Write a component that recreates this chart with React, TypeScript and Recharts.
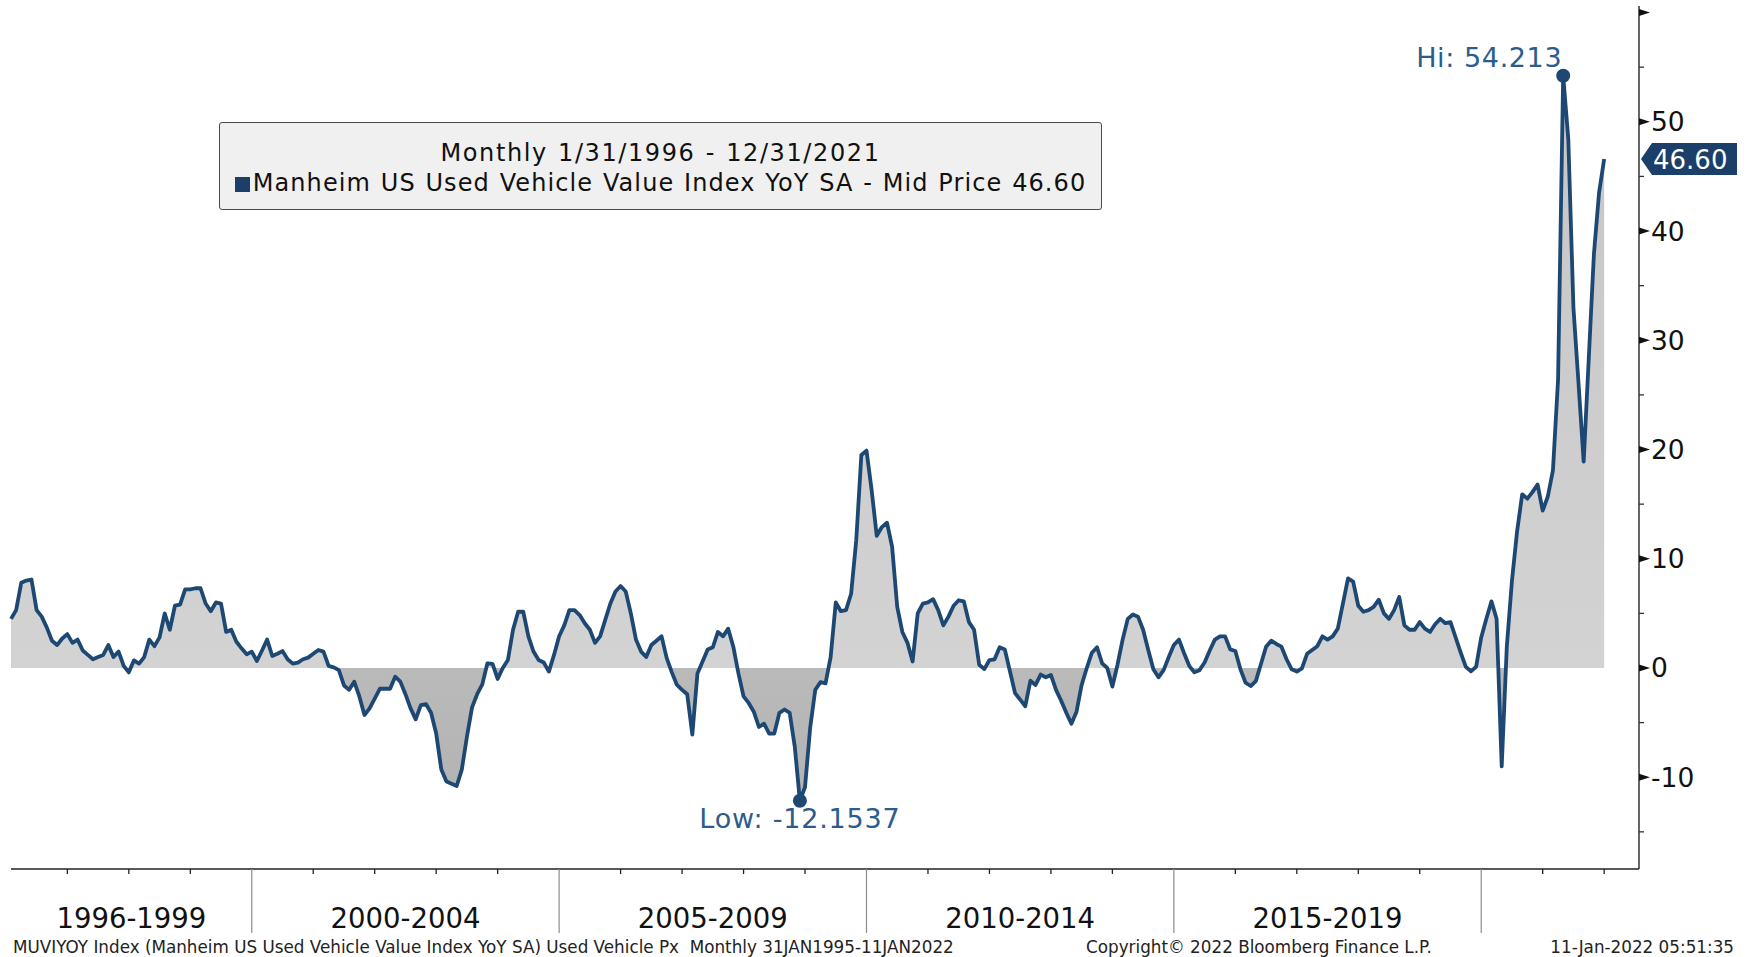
import React from 'react';
import {
  ComposedChart,
  Area,
  XAxis,
  YAxis,
  ReferenceDot,
  Legend,
} from 'recharts';

// Manheim US Used Vehicle Value Index YoY SA, monthly, one array per axis period
const yoy1996to1999 = [
  4.5, 5.3, 7.8, 8.0, 8.1, 5.3, 4.7, 3.7, 2.5, 2.1, 2.7, 3.1,
  2.3, 2.6, 1.6, 1.2, 0.8, 1.0, 1.2, 2.1, 1.0, 1.5, 0.2, -0.4,
  0.7, 0.4, 1.0, 2.6, 2.0, 2.8, 5.0, 3.5, 5.7, 5.8, 7.2, 7.2,
  7.3, 7.3, 5.9, 5.2, 6.0, 5.9, 3.3, 3.5, 2.4, 1.8, 1.25, 1.5,
];
const yoy2000to2004 = [
  0.64, 1.6, 2.6, 1.1, 1.3, 1.55, 0.8, 0.4, 0.5, 0.8, 0.95, 1.3,
  1.65, 1.5, 0.2, 0.06, -0.2, -1.6, -2.0, -1.25, -2.6, -4.3, -3.7, -2.8,
  -1.9, -1.9, -1.9, -0.8, -1.25, -2.4, -3.7, -4.7, -3.4, -3.3, -4.1, -6.0,
  -9.3, -10.4, -10.6, -10.8, -9.3, -6.3, -3.6, -2.4, -1.5, 0.43, 0.37, -1.0,
  0.0, 0.73, 3.5, 5.15, 5.15, 2.9, 1.5, 0.73, 0.5, -0.33, 1.2, 2.9,
];
const yoy2005to2009 = [
  3.9, 5.3, 5.3, 4.85, 4.1, 3.5, 2.3, 2.9, 4.4, 5.9, 7.0, 7.5,
  7.0, 5.0, 2.6, 1.5, 1.0, 2.1, 2.5, 2.9, 0.9, -0.4, -1.55, -2.0,
  -2.4, -6.1, -0.5, 0.6, 1.7, 1.9, 3.3, 2.9, 3.6, 1.95, -0.5, -2.6,
  -3.2, -4.0, -5.4, -5.1, -6.0, -6.0, -4.1, -3.8, -4.1, -7.2, -12.1537, -10.9,
  -5.5, -2.0, -1.3, -1.4, 1.0, 6.0, 5.2, 5.3, 6.8, 11.7, 19.5, 19.9,
];
const yoy2010to2014 = [
  16.3, 12.1, 12.9, 13.3, 11.1, 5.6, 3.3, 2.3, 0.6, 5.0, 5.9, 6.0,
  6.3, 5.3, 3.9, 4.7, 5.7, 6.2, 6.1, 4.2, 3.5, 0.3, -0.1, 0.73,
  0.8, 1.9, 1.7, -0.3, -2.3, -2.9, -3.5, -1.16, -1.55, -0.6, -0.85, -0.64,
  -2.0, -3.0, -4.1, -5.1, -4.0, -1.55, 0.0, 1.4, 1.9, 0.43, 0.0, -1.7,
  0.3, 2.6, 4.5, 4.9, 4.7, 3.5, 1.65, -0.12, -0.85, -0.2, 1.0, 2.1,
];
const yoy2015to2019 = [
  2.6, 1.35, 0.2, -0.4, -0.2, 0.5, 1.6, 2.6, 2.9, 2.9, 1.7, 1.55,
  -0.12, -1.35, -1.65, -1.2, 0.37, 1.95, 2.5, 2.2, 1.95, 0.8, -0.12, -0.33,
  -0.03, 1.3, 1.65, 2.0, 2.9, 2.6, 2.9, 3.6, 5.9, 8.2, 7.9, 5.7,
  5.15, 5.3, 5.6, 6.25, 5.0, 4.5, 5.3, 6.5, 3.9, 3.5, 3.5, 4.2,
  3.6, 3.3, 4.0, 4.5, 4.1, 4.2, 2.8, 1.4, 0.1, -0.3, 0.1, 2.8,
];
const yoy2020to2021 = [
  4.5, 6.1, 4.5, -9.0, 2.0, 8.0, 12.5, 15.9, 15.5, 16.1, 16.8, 14.4,
  15.7, 18.1, 26.4, 54.213, 48.4, 33.0, 26.0, 18.9, 28.4, 37.9, 43.5, 46.6,
];

// x axis: period labels and the month index (Dec) closing each labelled period
const periodLabels = ['1996-1999', '2000-2004', '2005-2009', '2010-2014', '2015-2019'];
const periodEnds = [47, 107, 167, 227, 287];
const yearEnds = [
  11, 23, 35, 47, 59, 71, 83, 95, 107, 119, 131, 143, 155,
  167, 179, 191, 203, 215, 227, 239, 251, 263, 275, 287, 299, 311,
];
const yTicks = [-15, -10, -5, 0, 5, 10, 15, 20, 25, 30, 35, 40, 45, 50, 55, 60];

const X_DOMAIN: [number, number] = [0, 317.8];
const Y_DOMAIN: [number, number] = [-18.4, 60.6];

const FONT = '"DejaVu Sans", Verdana, sans-serif';
const LINE = '#1d4873';
const NAVY = '#1b3f69';
const LABEL_BLUE = '#2a5d8d';

const yoy = [
  ...yoy1996to1999,
  ...yoy2000to2004,
  ...yoy2005to2009,
  ...yoy2010to2014,
  ...yoy2015to2019,
  ...yoy2020to2021,
];
const chartData = yoy.map((v, t) => ({ t, v }));

const hiValue = Math.max(...yoy);
const hiIndex = yoy.indexOf(hiValue);
const lowValue = Math.min(...yoy);
const lowIndex = yoy.indexOf(lowValue);
const lastValue = yoy[yoy.length - 1];
const zeroOffset = hiValue / (hiValue - lowValue);

const periodMids = periodEnds.map((end, i) => ((i === 0 ? 0 : periodEnds[i - 1]) + end) / 2);

function XTick(props: any) {
  const { x, y, payload } = props;
  const v = payload.value;
  const p = periodMids.indexOf(v);
  if (p >= 0) {
    return (
      <text
        x={x}
        y={y + 49}
        textAnchor="middle"
        dominantBaseline="central"
        fontSize={27.5}
        fontFamily={FONT}
        fill="#111"
      >
        {periodLabels[p]}
      </text>
    );
  }
  const sep = periodEnds.includes(v);
  return (
    <line
      x1={x}
      x2={x}
      y1={y}
      y2={y + (sep ? 64 : 5)}
      stroke={sep ? '#8c8c8c' : '#222'}
      strokeWidth={sep ? 1.2 : 1.3}
    />
  );
}

function YTick(props: any) {
  const { x, y, payload } = props;
  const v = payload.value;
  if (v % 10 !== 0) {
    return <line x1={x} x2={x + 5} y1={y} y2={y} stroke="#333" strokeWidth={1.3} />;
  }
  return (
    <g>
      <polygon points={`${x},${y - 3.5} ${x + 11},${y} ${x},${y + 3.5}`} fill="#111" />
      {v < 60 && (
        <text
          x={x + 12}
          y={y}
          dominantBaseline="central"
          fontSize={26.5}
          fontFamily={FONT}
          fill="#111"
        >
          {v}
        </text>
      )}
    </g>
  );
}

function HiMarker(props: any) {
  const { cx, cy } = props;
  return (
    <g>
      <circle cx={cx} cy={cy} r={7} fill={LINE} />
      <text
        x={cx - 1}
        y={cy - 18}
        textAnchor="end"
        dominantBaseline="central"
        fontSize={27}
        letterSpacing={0.6}
        fontFamily={FONT}
        fill={LABEL_BLUE}
      >
        {`Hi: ${hiValue}`}
      </text>
    </g>
  );
}

function LowMarker(props: any) {
  const { cx, cy } = props;
  return (
    <g>
      <circle cx={cx} cy={cy} r={7} fill={LINE} />
      <text
        x={cx}
        y={cy + 18}
        textAnchor="middle"
        dominantBaseline="central"
        fontSize={27}
        letterSpacing={0.8}
        fontFamily={FONT}
        fill={LABEL_BLUE}
      >
        {`Low: ${lowValue}`}
      </text>
    </g>
  );
}

function LastTag(props: any) {
  const { cx, cy } = props;
  const x = cx + 2;
  return (
    <g>
      <polygon
        points={`${x},${cy} ${x + 11},${cy - 16} ${x + 96},${cy - 16} ${x + 96},${cy + 16} ${x + 11},${cy + 16}`}
        fill={NAVY}
      />
      <text
        x={x + 12}
        y={cy + 1}
        dominantBaseline="central"
        fontSize={26}
        fontFamily={FONT}
        fill="#fff"
      >
        {lastValue.toFixed(2)}
      </text>
    </g>
  );
}

function LegendBox() {
  const line = { fontSize: 24, lineHeight: '30px', wordSpacing: 1, whiteSpace: 'nowrap' as const };
  return (
    <div
      style={{
        boxSizing: 'border-box',
        width: 883,
        height: 88,
        background: '#f0f0f0',
        border: '1.5px solid #4a4a4a',
        borderRadius: 3,
        fontFamily: FONT,
        color: '#111',
        textAlign: 'center',
        paddingTop: 15,
      }}
    >
      <div style={{ ...line, letterSpacing: 1.6 }}>Monthly 1/31/1996 - 12/31/2021</div>
      <div style={{ ...line, letterSpacing: 1.1 }}>
        <span
          style={{
            display: 'inline-block',
            width: 15,
            height: 15,
            background: NAVY,
            marginRight: 3,
            verticalAlign: '-1px',
          }}
        />
        Manheim US Used Vehicle Value Index YoY SA - Mid Price {lastValue.toFixed(2)}
      </div>
    </div>
  );
}

export default function App() {
  const footer = { position: 'absolute' as const, top: 937, fontSize: 16.8, lineHeight: '20px', fontFamily: FONT, color: '#222', whiteSpace: 'pre' as const };
  return (
    <div style={{ position: 'absolute', left: 0, top: 0, width: 1747, height: 957, background: '#fff' }}>
      <ComposedChart
        width={1747}
        height={957}
        data={chartData}
        margin={{ top: 6, right: 0, bottom: 0, left: 11 }}
      >
        <defs>
          <linearGradient id="manheimFill" x1="0" y1="0" x2="0" y2="1">
            <stop offset="0" stopColor="#c5c5c5" />
            <stop offset={zeroOffset} stopColor="#d3d3d3" />
            <stop offset={zeroOffset} stopColor="#bababa" />
            <stop offset="1" stopColor="#b3b3b3" />
          </linearGradient>
        </defs>
        <XAxis
          dataKey="t"
          type="number"
          domain={X_DOMAIN}
          ticks={[...yearEnds, ...periodMids]}
          interval={0}
          height={88}
          tickSize={0}
          tickMargin={0}
          tickLine={false}
          axisLine={{ stroke: '#222', strokeWidth: 1.5 }}
          tick={<XTick />}
        />
        <YAxis
          orientation="right"
          type="number"
          width={108}
          domain={Y_DOMAIN}
          ticks={yTicks}
          interval={0}
          tickSize={0}
          tickMargin={0}
          tickLine={false}
          axisLine={{ stroke: '#333', strokeWidth: 1.5 }}
          tick={<YTick />}
        />
        <Legend
          layout="horizontal"
          verticalAlign="middle"
          align="center"
          wrapperStyle={{ left: 219, top: 122, width: 883, height: 88 }}
          content={() => <LegendBox />}
        />
        <Area
          type="linear"
          dataKey="v"
          baseValue={0}
          stroke={LINE}
          strokeWidth={3.8}
          strokeLinejoin="round"
          fill="url(#manheimFill)"
          fillOpacity={1}
          dot={false}
          activeDot={false}
          isAnimationActive={false}
        />
        <ReferenceDot x={hiIndex} y={hiValue} r={7} shape={<HiMarker />} />
        <ReferenceDot x={lowIndex} y={lowValue} r={7} shape={<LowMarker />} />
        <ReferenceDot x={X_DOMAIN[1]} y={lastValue} r={1} shape={<LastTag />} />
      </ComposedChart>
      <div style={{ ...footer, left: 13 }}>
        MUVIYOY Index (Manheim US Used Vehicle Value Index YoY SA) Used Vehicle Px  Monthly 31JAN1995-11JAN2022
      </div>
      <div style={{ ...footer, left: 1086 }}>Copyright© 2022 Bloomberg Finance L.P.</div>
      <div style={{ ...footer, right: 13 }}>11-Jan-2022 05:51:35</div>
    </div>
  );
}
